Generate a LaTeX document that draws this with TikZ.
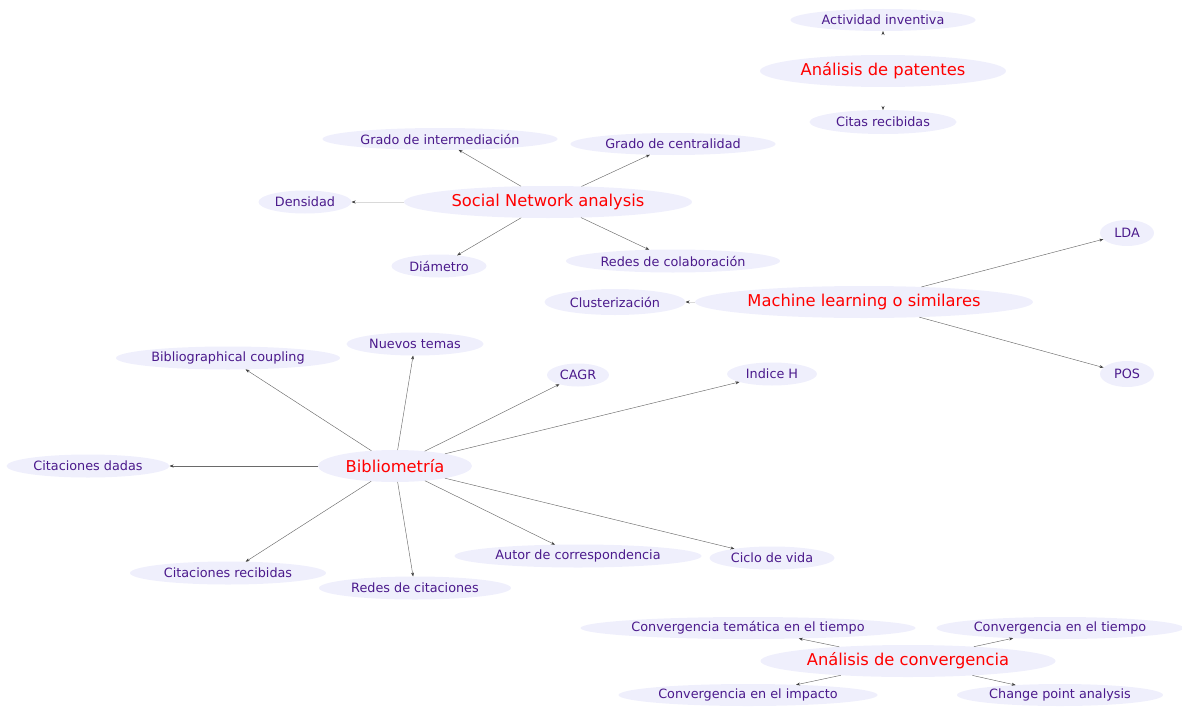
\documentclass[tikz,border=0pt]{standalone}
\usepackage{fontspec}
\setmainfont{DejaVu Sans}
\usetikzlibrary{shapes.geometric,arrows.meta}
\definecolor{bubble}{HTML}{EFEFFC}
\definecolor{leaftext}{HTML}{4B1A8C}
\definecolor{hubtext}{HTML}{FF0000}
\definecolor{linkgray}{HTML}{6A6A6A}
\tikzset{
  bub/.style={ellipse,fill=bubble,inner sep=0pt,outer sep=0pt},
  leaf/.style={bub,text=leaftext,font=\fontsize{12.8}{13}\selectfont,minimum height=23pt},
  hub/.style={bub,text=hubtext,font=\fontsize{16.3}{17}\selectfont,minimum height=32pt},
  link/.style={draw=linkgray,line width=0.45pt,-{Stealth[length=4pt,width=3pt,color=black!75]}},
  faint/.style={link,draw=black!15},
  ghost/.style={link,draw=white}
}
\begin{document}
\begin{tikzpicture}[x=1pt,y=-1pt]
\useasboundingbox (0,0) rectangle (1182,709);

% Patent analysis cluster
\node[hub,minimum width=246pt] (pat) at (883,71) {Análisis de patentes};
\node[leaf,minimum width=185pt,minimum height=22pt] (act) at (883,20) {Actividad inventiva};
\node[leaf,minimum width=147pt,minimum height=24pt] (cit) at (883,122) {Citas recibidas};

% Social network analysis cluster
\node[hub,minimum width=288pt] (sna) at (548,202) {Social Network analysis};
\node[leaf,minimum width=235pt,minimum height=22pt] (inter) at (440,139) {Grado de intermediación};
\node[leaf,minimum width=205pt,minimum height=22pt] (cent) at (673,144) {Grado de centralidad};
\node[leaf,minimum width=93pt] (dens) at (305,202) {Densidad};
\node[leaf,minimum width=95pt] (diam) at (439,266) {Diámetro};
\node[leaf,minimum width=214pt] (colab) at (673,261) {Redes de colaboración};

% Machine learning cluster
\node[hub,minimum width=338pt] (ml) at (864,302) {Machine learning o similares};
\node[leaf,minimum width=141pt,minimum height=26pt] (clus) at (615,302) {Clusterización};
\node[leaf,minimum width=54pt,minimum height=26pt] (lda) at (1127,233) {LDA};
\node[leaf,minimum width=54pt,minimum height=26pt] (pos) at (1127,374) {POS};

% Bibliometrics cluster
\node[hub,minimum width=154pt] (bib) at (395,466) {Bibliometría};
\node[leaf,minimum width=224pt] (coup) at (228,358) {Bibliographical coupling};
\node[leaf,minimum width=137pt] (nue) at (415,344) {Nuevos temas};
\node[leaf,minimum width=62pt] (cagr) at (578,375) {CAGR};
\node[leaf,minimum width=90pt] (hidx) at (772,374) {Indice H};
\node[leaf,minimum width=163pt] (dad) at (88,466) {Citaciones dadas};
\node[leaf,minimum width=196pt] (rec) at (228,573) {Citaciones recibidas};
\node[leaf,minimum width=192pt] (rcit) at (415,588) {Redes de citaciones};
\node[leaf,minimum width=247pt] (aut) at (578,556) {Autor de correspondencia};
\node[leaf,minimum width=125pt] (cic) at (772,558) {Ciclo de vida};

% Convergence cluster
\node[hub,minimum width=295pt] (conv) at (908,661) {Análisis de convergencia};
\node[leaf,minimum width=335pt,minimum height=22pt] (ctem) at (748,628) {Convergencia temática en el tiempo};
\node[leaf,minimum width=247pt,minimum height=22pt] (ctie) at (1060,628) {Convergencia en el tiempo};
\node[leaf,minimum width=259pt,minimum height=22pt] (cimp) at (748,695) {Convergencia en el impacto};
\node[leaf,minimum width=206pt,minimum height=22pt] (cpa) at (1060,695) {Change point analysis};

% Connectors
\draw[ghost] (pat) -- (act);
\draw[ghost] (pat) -- (cit);

\draw[link] (sna) -- (inter);
\draw[link] (sna) -- (cent);
\draw[faint] (sna) -- (dens);
\draw[link] (sna) -- (diam);
\draw[link] (sna) -- (colab);

\draw[faint] (ml) -- (clus);
\draw[link] (ml) -- (lda);
\draw[link] (ml) -- (pos);

\draw[link] (bib) -- (coup);
\draw[link] (bib) -- (nue);
\draw[link] (bib) -- (cagr);
\draw[link] (bib) -- (hidx);
\draw[link] (bib) -- (dad);
\draw[link] (bib) -- (rec);
\draw[link] (bib) -- (rcit);
\draw[link] (bib) -- (aut);
\draw[link] (bib) -- (cic);

\draw[link] (conv) -- (ctem);
\draw[link] (conv) -- (ctie);
\draw[link] (conv) -- (cimp);
\draw[link] (conv) -- (cpa);
\end{tikzpicture}
\end{document}
